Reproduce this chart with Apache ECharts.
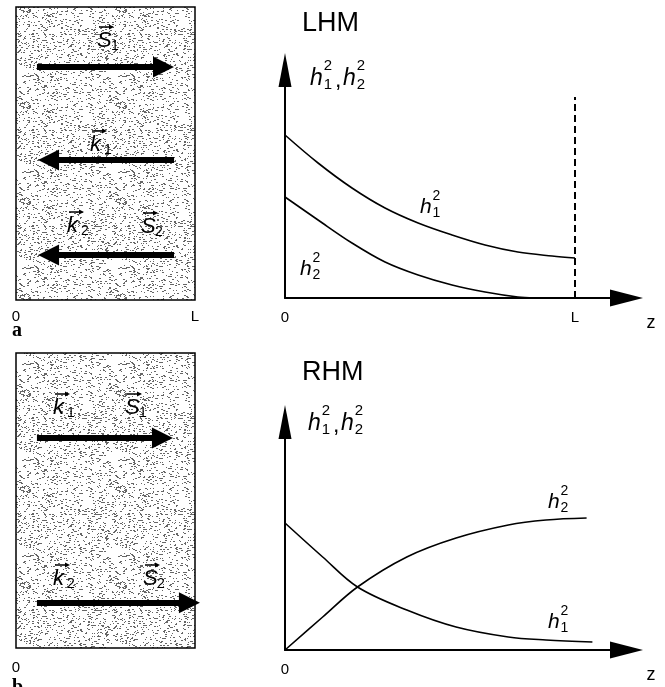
<!DOCTYPE html>
<html>
<head>
<meta charset="utf-8">
<script src="https://cdn.jsdelivr.net/npm/echarts@6/dist/echarts.min.js"></script>
<style>
  html, body { margin: 0; padding: 0; background: #fff; }
  #main { width: 665px; height: 687px; }
</style>
</head>
<body>
<div id="main"></div>
<script>
// z in units of L, h^2 in arbitrary units
const lhmZ1 = [0, 0.114, 0.231, 0.345, 0.459, 0.576, 0.69, 0.803, 0.921, 1.0]
const lhmH1 = [1.63, 1.35, 1.10, 0.90, 0.75, 0.63, 0.53, 0.46, 0.42, 0.40]
const lhmZ2 = [0, 0.114, 0.231, 0.345, 0.459, 0.576, 0.69, 0.803, 0.86]
const lhmH2 = [1.01, 0.78, 0.55, 0.36, 0.23, 0.13, 0.06, 0.01, 0]
const lhmEdge = [[1, 0], [1, 2.01]]   // dashed line at z = L

const rhmZ1 = [0, 0.13, 0.25, 0.42, 0.59, 0.77, 0.9, 1.06]
const rhmH1 = [1.27, 0.93, 0.63, 0.40, 0.23, 0.13, 0.10, 0.08]
const rhmZ2 = [0, 0.13, 0.25, 0.42, 0.59, 0.77, 0.9, 1.04]
const rhmH2 = [0, 0.33, 0.63, 0.93, 1.12, 1.25, 1.30, 1.32]

// arrows inside the slabs: x from/to (units of L), height in slab (0 bottom .. 1 top)
const arrowsA = [
  { x0: 0.117, x1: 0.824, y: 0.795 },  // S1 ->
  { x0: 0.883, x1: 0.182, y: 0.478 },  // k1 <-
  { x0: 0.883, x1: 0.182, y: 0.154 }   // k2, S2 <-
]
const arrowsB = [
  { x0: 0.117, x1: 0.818, y: 0.712 },  // k1, S1 ->
  { x0: 0.117, x1: 0.969, y: 0.153 }   // k2, S2 ->
]

const SANS = '"Liberation Sans", Arial, sans-serif'
const zip = (xs, ys) => xs.map((x, i) => [x, ys[i]])

// stippled slab texture
function makeStipple() {
  const c = document.createElement('canvas')
  c.width = 96; c.height = 96
  const g = c.getContext('2d')
  g.fillStyle = '#fff'; g.fillRect(0, 0, 96, 96)
  g.fillStyle = '#666'
  for (let y = 0; y < 96; y += 2) {
    for (let x = 0; x < 96; x++) {
      let h = Math.imul(x + 1, 374761393) + Math.imul(y + 7, 668265263)
      h = Math.imul(h ^ (h >>> 13), 1274126177)
      h ^= h >>> 16
      if ((h >>> 0) % 100 < 20) g.fillRect(x, y + ((h >>> 9) & 1), 1 + ((h >>> 8) & 1), 1)
    }
  }
  return c
}
const stipple = { image: makeStipple(), repeat: 'repeat' }

const txt = (x, y, text, font) => ({
  type: 'text', x, y, silent: true,
  style: { text, font, fill: '#000', align: 'left', verticalAlign: 'middle' }
})

// h with stacked superscript 2 and subscript index
function hsq(x, B, sub, s) {
  const fi = Math.round(s * 0.65)
  return [
    txt(x, B - 0.35 * s, 'h', `italic ${s}px ${SANS}`),
    txt(x + 0.6 * s, B - 0.9 * s, '2', `${fi}px ${SANS}`),
    txt(x + 0.6 * s, B - 0.1 * s, sub, `${fi}px ${SANS}`)
  ]
}

// vector symbol with arrow above
function vec(x, B, letter, sub) {
  return [
    txt(x, B - 7.7, letter, `italic 22px ${SANS}`),
    txt(x + 14, B - 3, sub, `14px ${SANS}`),
    { type: 'line', silent: true, shape: { x1: x + 2, y1: B - 22, x2: x + 13, y2: B - 22 }, style: { stroke: '#000', lineWidth: 1.5 } },
    { type: 'polygon', silent: true, shape: { points: [[x + 17, B - 22], [x + 12, B - 24.5], [x + 12, B - 19.5]] }, style: { fill: '#000' } }
  ]
}

const plotW = 341.5, plotH = 228
const zMax = plotW / 290

function plotXAxis(gridIndex, labels) {
  return {
    gridIndex, type: 'value', min: 0, max: zMax, interval: 1,
    name: 'z', nameLocation: 'end', nameGap: 20,
    nameTextStyle: { color: '#000', fontFamily: SANS, fontSize: 18, verticalAlign: 'top', padding: [16, 0, 0, 0] },
    axisLine: { show: true, onZero: false, symbol: ['none', 'triangle'], symbolSize: [17, 33], lineStyle: { color: '#000', width: 2 } },
    axisTick: { show: false },
    splitLine: { show: false },
    axisLabel: { color: '#000', fontFamily: SANS, fontSize: 15, margin: 12, formatter: v => labels[v] || '' }
  }
}
function plotYAxis(gridIndex) {
  return {
    gridIndex, type: 'value', min: 0, max: 2.28,
    axisLine: { show: true, onZero: false, symbol: ['none', 'triangle'], symbolSize: [13, 34], lineStyle: { color: '#000', width: 2 } },
    axisTick: { show: false }, axisLabel: { show: false }, splitLine: { show: false }
  }
}
function slabXAxis(gridIndex, labels, margin) {
  return {
    gridIndex, type: 'value', min: 0, max: 1, interval: 1,
    axisLine: { show: false }, axisTick: { show: false }, splitLine: { show: false },
    axisLabel: { color: '#000', fontFamily: SANS, fontSize: 15, margin, formatter: v => labels[v] || '' }
  }
}
const slabYAxis = gridIndex => ({ gridIndex, type: 'value', min: 0, max: 1, show: false })

const curve = (idx, data) => ({
  type: 'line', xAxisIndex: idx, yAxisIndex: idx, data, smooth: 0.35, showSymbol: false, silent: true,
  lineStyle: { color: '#000', width: 1.6 }
})
const arrows = (idx, list) => ({
  type: 'lines', coordinateSystem: 'cartesian2d', xAxisIndex: idx, yAxisIndex: idx, clip: false, silent: true,
  symbol: ['none', 'triangle'], symbolSize: 21,
  lineStyle: { color: '#000', width: 6, opacity: 1, curveness: 0 },
  data: list.map(a => ({ coords: [[a.x0, a.y], [a.x1, a.y]] }))
})

const chart = echarts.init(document.getElementById('main'), null, { renderer: 'canvas' })
chart.setOption({
  animation: false,
  backgroundColor: '#fff',
  grid: [
    { left: 285, top: 70, width: plotW, height: plotH },
    { left: 285, top: 422, width: plotW, height: plotH },
    { left: 16, top: 7, width: 179, height: 293, show: true, backgroundColor: stipple, borderColor: '#000', borderWidth: 1.5 },
    { left: 16, top: 353, width: 179, height: 295, show: true, backgroundColor: stipple, borderColor: '#000', borderWidth: 1.5 }
  ],
  xAxis: [
    plotXAxis(0, { 0: '0', 1: 'L' }),
    plotXAxis(1, { 0: '0' }),
    slabXAxis(2, { 0: '0', 1: 'L' }, 9),
    slabXAxis(3, { 0: '0' }, 12)
  ],
  yAxis: [plotYAxis(0), plotYAxis(1), slabYAxis(2), slabYAxis(3)],
  series: [
    curve(0, zip(lhmZ1, lhmH1)),
    curve(0, zip(lhmZ2, lhmH2)),
    {
      type: 'line', xAxisIndex: 0, yAxisIndex: 0, data: lhmEdge, showSymbol: false, silent: true,
      lineStyle: { color: '#000', width: 2, type: [7, 4] }
    },
    curve(1, zip(rhmZ1, rhmH1)),
    curve(1, zip(rhmZ2, rhmH2)),
    arrows(2, arrowsA),
    arrows(3, arrowsB)
  ],
  graphic: [
    txt(302, 23.5, 'LHM', `27px ${SANS}`),
    txt(302, 372.5, 'RHM', `27px ${SANS}`),
    ...hsq(310, 87, '1', 23), txt(335, 81, ',', `23px ${SANS}`), ...hsq(343, 87, '2', 23),
    ...hsq(308, 432, '1', 23), txt(333, 426, ',', `23px ${SANS}`), ...hsq(341, 432, '2', 23),
    ...hsq(420, 215, '1', 21),
    ...hsq(300, 277, '2', 21),
    ...hsq(548, 510, '2', 21),
    ...hsq(548, 630, '1', 21),
    ...vec(97, 49, 'S', '1'),
    ...vec(90, 153, 'k', '1'),
    ...vec(67, 234, 'k', '2'),
    ...vec(141, 235, 'S', '2'),
    ...vec(53, 416, 'k', '1'),
    ...vec(125, 416, 'S', '1'),
    ...vec(53, 587, 'k', '2'),
    ...vec(143, 587, 'S', '2'),
    txt(12, 331, 'a', 'bold 20px "Liberation Serif", "DejaVu Serif", serif'),
    txt(12, 688, 'b', 'bold 20px "Liberation Serif", "DejaVu Serif", serif')
  ]
})
</script>
</body>
</html>
